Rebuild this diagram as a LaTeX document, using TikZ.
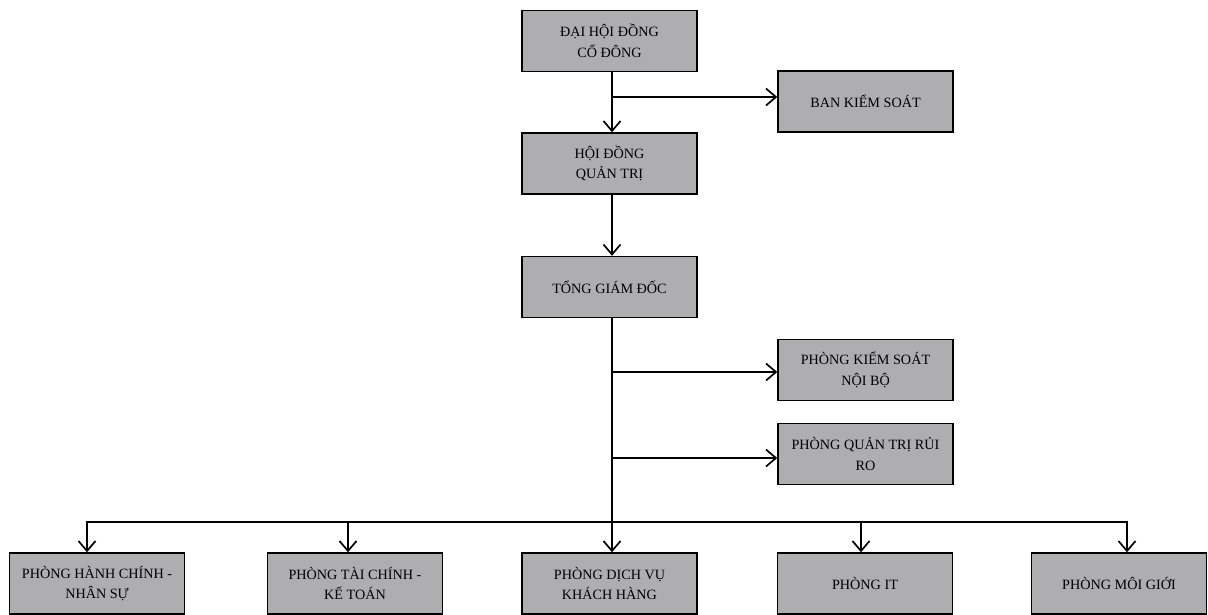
\documentclass[tikz,border=0pt]{standalone}
\usepackage{fontspec}
\setmainfont{Liberation Serif}
\usetikzlibrary{arrows.meta}
\definecolor{boxgray}{RGB}{174,174,176}
\tikzset{
  unitbox/.style={draw=black, line width=1.4pt, fill=boxgray, minimum width=175pt, minimum height=61pt, inner sep=1pt, align=center, font=\fontsize{14.2}{20.5}\selectfont, anchor=center},
  arr/.style={line width=1.7pt, -{Straight Barb[length=10pt,width=17pt,line width=1.7pt]}}
}
\begin{document}
\begin{tikzpicture}[x=1pt,y=-1pt]
\useasboundingbox (0,0) rectangle (1208,614);
\node[unitbox] (dh) at (609.5,41) {ĐẠI HỘI ĐỒNG\\CỔ ĐÔNG};
\node[unitbox] (bks) at (865.5,101.5) {BAN KIỂM SOÁT};
\node[unitbox] (hd) at (609.5,163.5) {HỘI ĐỒNG\\QUẢN TRỊ};
\node[unitbox] (tgd) at (609.5,287) {TỔNG GIÁM ĐỐC};
\node[unitbox] (ks) at (865.5,370) {PHÒNG KIỂM SOÁT\\NỘI BỘ};
\node[unitbox] (rr) at (865.5,454) {PHÒNG QUẢN TRỊ RỦI\\RO};
\node[unitbox] (p1) at (97,583.5) {PHÒNG HÀNH CHÍNH -\\NHÂN SỰ};
\node[unitbox] (p2) at (355,583.5) {PHÒNG TÀI CHÍNH -\\KẾ TOÁN};
\node[unitbox] (p3) at (609.5,583.5) {PHÒNG DỊCH VỤ\\KHÁCH HÀNG};
\node[unitbox] (p4) at (865,583.5) {PHÒNG IT};
\node[unitbox] (p5) at (1119,583.5) {PHÒNG MÔI GIỚI};
% top chain
\draw[arr] ([xshift=2.5pt]dh.south) -- ([xshift=2.5pt]hd.north);
\coordinate (j1) at (612,97);
\draw[arr] (j1) -- (j1 -| bks.west);
\draw[arr] ([xshift=2.5pt]hd.south) -- ([xshift=2.5pt]tgd.north);
\draw[arr] ([xshift=2.5pt]tgd.south) -- ([xshift=2.5pt]p3.north);
\coordinate (j2) at (612,372);
\coordinate (j3) at (612,458);
\draw[arr] (j2) -- (j2 -| ks.west);
\draw[arr] (j3) -- (j3 -| rr.west);
% bus
\coordinate (bus) at (612,522);
\draw[arr] (bus) -| ([xshift=-10pt]p1.north);
\draw[arr] (bus) -| ([xshift=-7pt]p2.north);
\draw[arr] (bus) -| ([xshift=-4pt]p4.north);
\draw[arr] (bus) -| ([xshift=8pt]p5.north);
\end{tikzpicture}
\end{document}
